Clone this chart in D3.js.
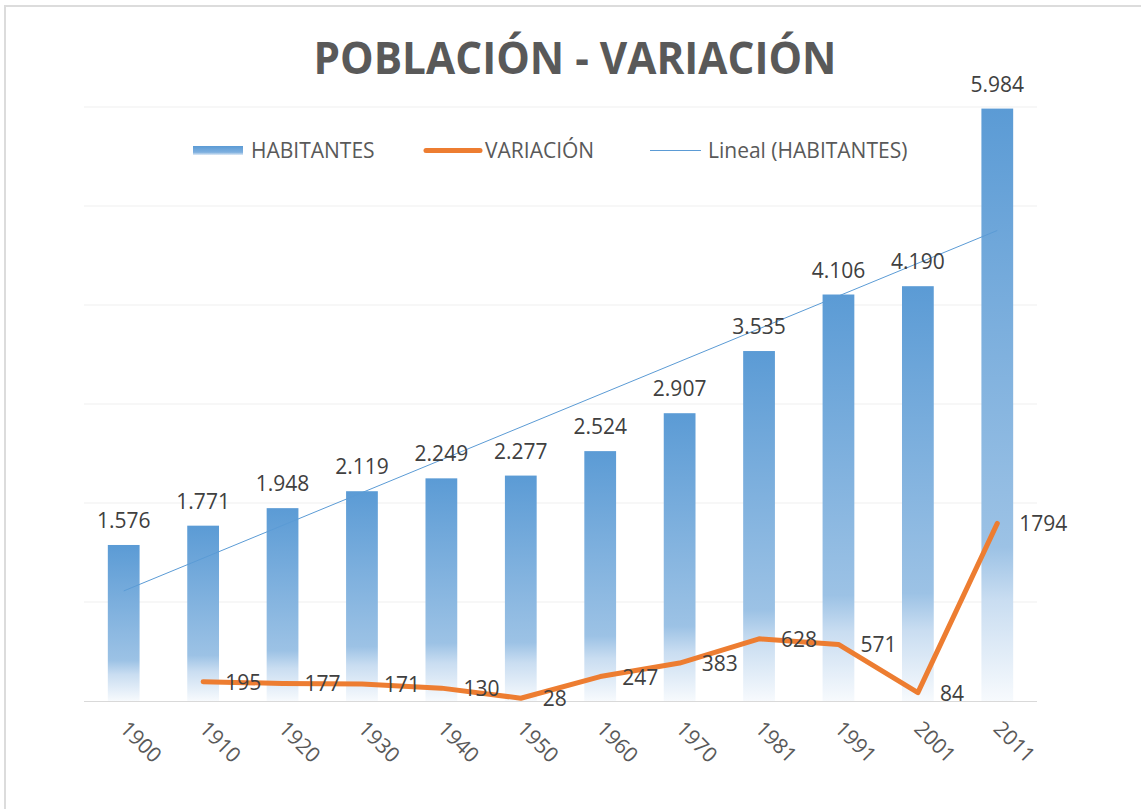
<!DOCTYPE html>
<html>
<head>
<meta charset="utf-8">
<script src="https://cdn.jsdelivr.net/npm/d3@7"></script>
<style>
  body { margin: 0; background: #fff; }
  svg text { font-family: "Open Sans", "Noto Sans", sans-serif; }
</style>
</head>
<body>
<div id="chart"></div>
<script>
// Chart data
var years = ["1900", "1910", "1920", "1930", "1940", "1950", "1960", "1970", "1981", "1991", "2001", "2011"];
var habitantes = [1576, 1771, 1948, 2119, 2249, 2277, 2524, 2907, 3535, 4106, 4190, 5984];
var variacion = [null, 195, 177, 171, 130, 28, 247, 383, 628, 571, 84, 1794];
var yTicks = [0, 1000, 2000, 3000, 4000, 5000, 6000];

var svgWidth = 1141;
var svgHeight = 809;

var margin = { top: 107, bottom: 108, left: 84, right: 104 };
var width = svgWidth - margin.left - margin.right;
var height = svgHeight - margin.top - margin.bottom;

var svg = d3.select("#chart")
  .append("svg")
  .attr("width", svgWidth)
  .attr("height", svgHeight);

// frame edges (top and left)
svg.append("rect").attr("x", 4).attr("y", 5).attr("width", svgWidth - 4).attr("height", 2).attr("fill", "#dcdcdc");
svg.append("rect").attr("x", 4).attr("y", 5).attr("width", 2).attr("height", svgHeight - 5).attr("fill", "#dcdcdc");

// bar gradient
var defs = svg.append("defs");
var grad = defs.append("linearGradient")
  .attr("id", "barGrad")
  .attr("x1", 0).attr("y1", 0).attr("x2", 0).attr("y2", 1);
grad.append("stop").attr("offset", "0%").attr("stop-color", "#5b9bd5");
grad.append("stop").attr("offset", "74%").attr("stop-color", "#9cc2e5");
grad.append("stop").attr("offset", "83%").attr("stop-color", "#c9ddf1");
grad.append("stop").attr("offset", "100%").attr("stop-color", "#f7fafd");

var legGrad = defs.append("linearGradient")
  .attr("id", "legGrad")
  .attr("x1", 0).attr("y1", 0).attr("x2", 0).attr("y2", 1);
legGrad.append("stop").attr("offset", "0%").attr("stop-color", "#5b9bd5");
legGrad.append("stop").attr("offset", "70%").attr("stop-color", "#7fb0df");
legGrad.append("stop").attr("offset", "100%").attr("stop-color", "#dfeaf6");

var chartGroup = svg.append("g")
  .attr("transform", `translate(${margin.left}, ${margin.top})`);

// Scales
var xScale = d3.scaleBand()
  .domain(years)
  .range([0, width])
  .paddingInner(0.6)
  .paddingOuter(0.3);

var yScale = d3.scaleLinear()
  .domain([0, 6000])
  .range([height, 0]);

// Gridlines
chartGroup.append("g")
  .selectAll("line")
  .data(yTicks.slice(1))
  .enter()
  .append("line")
  .attr("x1", 0)
  .attr("x2", width)
  .attr("y1", d => yScale(d))
  .attr("y2", d => yScale(d))
  .attr("stroke", "#efefef")
  .attr("stroke-width", 1);

// Bars
var cx = d => xScale(d) + xScale.bandwidth() / 2;

chartGroup.append("g")
  .selectAll("rect")
  .data(years)
  .enter()
  .append("rect")
  .attr("x", d => xScale(d))
  .attr("y", (d, i) => yScale(habitantes[i]))
  .attr("width", xScale.bandwidth())
  .attr("height", (d, i) => height - yScale(habitantes[i]))
  .attr("fill", "url(#barGrad)");

// X axis
var xAxis = d3.axisBottom(xScale).tickSize(0).tickPadding(0);
var xAxisG = chartGroup.append("g")
  .attr("transform", `translate(0, ${height})`)
  .call(xAxis);
xAxisG.select(".domain").attr("stroke", "#d9d9d9").attr("stroke-width", 1)
  .attr("d", `M0,0.5H${width}`);
xAxisG.selectAll("text")
  .attr("font-size", "21px")
  .attr("fill", "#595959")
  .attr("text-anchor", "middle")
  .attr("dy", null)
  .attr("y", 0)
  .attr("transform", "translate(12, 46) rotate(45)");

// Linear trend of habitantes (least squares)
var n = habitantes.length;
var xs = d3.range(1, n + 1);
var mx = d3.mean(xs);
var my = d3.mean(habitantes);
var slope = d3.sum(xs, (x, i) => (x - mx) * (habitantes[i] - my)) / d3.sum(xs, x => (x - mx) * (x - mx));
var intercept = my - slope * mx;

chartGroup.append("line")
  .attr("x1", cx(years[0]))
  .attr("y1", yScale(intercept + slope * 1))
  .attr("x2", cx(years[n - 1]))
  .attr("y2", yScale(intercept + slope * n))
  .attr("stroke", "#5b9bd5")
  .attr("stroke-width", 1);

// Variation line
var varData = years.map((d, i) => ({ year: d, v: variacion[i] })).filter(d => d.v !== null);
var line = d3.line()
  .x(d => cx(d.year))
  .y(d => yScale(d.v));

chartGroup.append("path")
  .datum(varData)
  .attr("d", line)
  .attr("fill", "none")
  .attr("stroke", "#ed7d31")
  .attr("stroke-width", 5)
  .attr("stroke-linejoin", "round")
  .attr("stroke-linecap", "round");

// Bar labels
chartGroup.append("g")
  .selectAll("text")
  .data(years)
  .enter()
  .append("text")
  .attr("x", d => cx(d))
  .attr("y", (d, i) => yScale(habitantes[i]) - 17)
  .attr("text-anchor", "middle")
  .attr("font-size", "21px")
  .attr("fill", "#404040")
  .text((d, i) => d3.format(",")(habitantes[i]).replace(/,/g, "."));

// Variation labels
chartGroup.append("g")
  .selectAll("text")
  .data(varData)
  .enter()
  .append("text")
  .attr("x", d => cx(d.year) + 22)
  .attr("y", d => yScale(d.v) + 8)
  .attr("font-size", "21px")
  .attr("fill", "#404040")
  .text(d => d.v);

// Title
svg.append("text")
  .attr("x", 575)
  .attr("y", 74)
  .attr("text-anchor", "middle")
  .attr("font-size", "45px")
  .attr("font-weight", "bold")
  .attr("fill", "#595959")
  .attr("textLength", 523)
  .attr("lengthAdjust", "spacingAndGlyphs")
  .text("POBLACIÓN - VARIACIÓN");

// Legend
var legend = svg.append("g").attr("font-size", "21px").attr("fill", "#595959");
legend.append("rect").attr("x", 193).attr("y", 146).attr("width", 50).attr("height", 9).attr("fill", "url(#legGrad)");
legend.append("text").attr("x", 251).attr("y", 158).text("HABITANTES");
legend.append("line").attr("x1", 426).attr("x2", 480).attr("y1", 150.5).attr("y2", 150.5)
  .attr("stroke", "#ed7d31").attr("stroke-width", 5).attr("stroke-linecap", "round");
legend.append("text").attr("x", 485).attr("y", 158).text("VARIACIÓN");
legend.append("line").attr("x1", 650).attr("x2", 701).attr("y1", 150.5).attr("y2", 150.5)
  .attr("stroke", "#5b9bd5").attr("stroke-width", 1);
legend.append("text").attr("x", 708).attr("y", 158).text("Lineal (HABITANTES)");
</script>
</body>
</html>
